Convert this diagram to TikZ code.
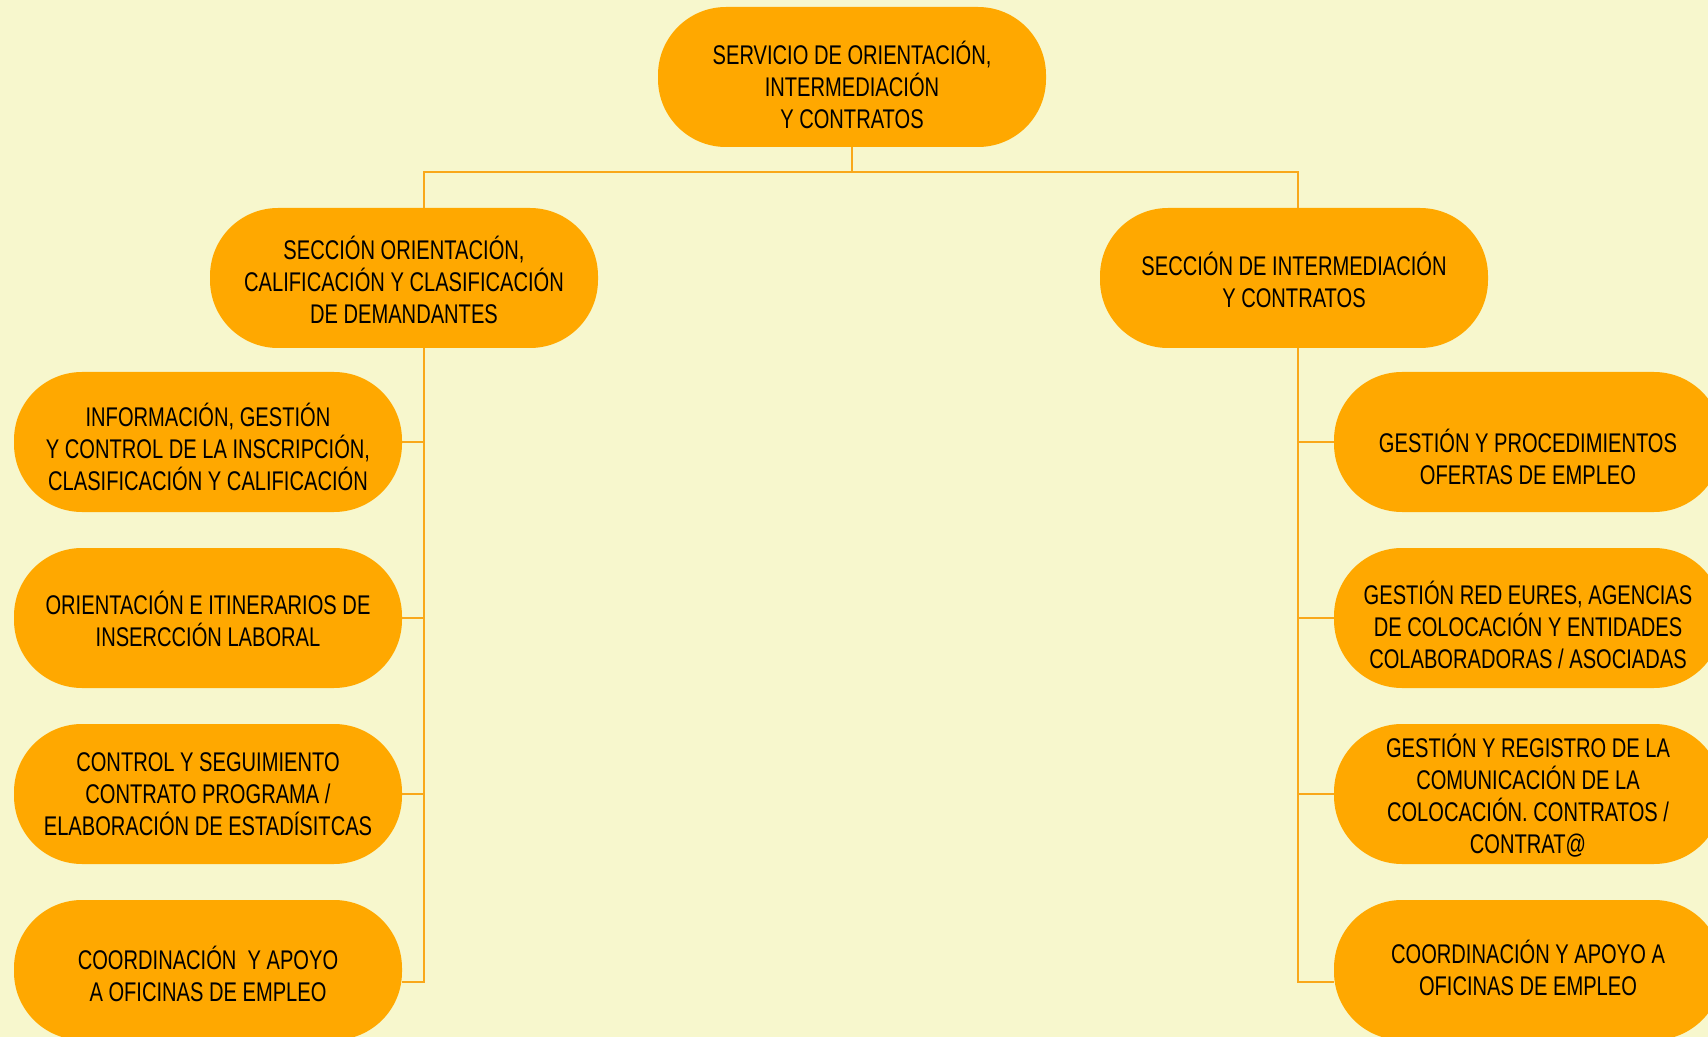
\documentclass[tikz,border=0pt]{standalone}
\usepackage{fontspec}
\setmainfont{Liberation Sans}[FakeStretch=0.745]
\usetikzlibrary{positioning}
\definecolor{fondo}{HTML}{F7F7CD}
\definecolor{naranja}{HTML}{FFA800}
\definecolor{linea}{HTML}{F9A81A}

\begin{document}
\begin{tikzpicture}[x=0.5pt,y=-0.5pt,on grid,node distance=88pt,
  caja/.style={rectangle,rounded corners=34pt,fill=naranja,minimum width=194pt,
    minimum height=70pt,inner sep=0pt},
  texto/.style={inner sep=0pt,align=center,font=\fontsize{13.5}{16}\selectfont},
  link/.style={draw=linea,line width=1.4pt}]

  \useasboundingbox (0,0) rectangle (1708,1037);
  \clip (0,0) rectangle (1708,1037);
  \fill[fondo] (0,0) rectangle (1708,1037);

  % jefatura y secciones
  \node[caja,label={[texto,yshift=-4.2pt]center:SERVICIO DE ORIENTACIÓN,\\INTERMEDIACIÓN\\Y CONTRATOS}] (serv) at (852,77) {};
  \node[caja,label={[texto,yshift=-1pt]center:SECCIÓN ORIENTACIÓN,\\CALIFICACIÓN Y CLASIFICACIÓN\\DE DEMANDANTES}] (lsec) at (404,278) {};
  \node[caja,label={[texto,yshift=-0.8pt]center:SECCIÓN DE INTERMEDIACIÓN\\Y CONTRATOS}] (rsec) at (1294,278) {};

  % negociados izquierda
  \node[caja,label={[texto,yshift=-2.7pt]center:INFORMACIÓN, GESTIÓN\\Y CONTROL DE LA INSCRIPCIÓN,\\CLASIFICACIÓN Y CALIFICACIÓN}] (l1) at (208,442) {};
  \node[caja,label={[texto,yshift=-0.5pt]center:ORIENTACIÓN E ITINERARIOS DE\\INSERCCIÓN LABORAL}] (l2) [below=of l1] {};
  \node[caja,label={[texto]center:CONTROL Y SEGUIMIENTO\\CONTRATO PROGRAMA /\\ELABORACIÓN DE ESTADÍSITCAS}] (l3) [below=of l2] {};
  \node[caja,label={[texto,yshift=-2pt]center:COORDINACIÓN\ \ Y APOYO\\A OFICINAS DE EMPLEO}] (l4) [below=of l3] {};

  % negociados derecha
  \node[caja,label={[texto,yshift=-7.6pt]center:GESTIÓN Y PROCEDIMIENTOS\\OFERTAS DE EMPLEO}] (r1) at (1528,442) {};
  \node[caja,label={[texto,yshift=-3.3pt]center:GESTIÓN RED EURES, AGENCIAS\\DE COLOCACIÓN Y ENTIDADES\\COLABORADORAS / ASOCIADAS}] (r2) [below=of r1] {};
  \node[caja,label={[texto,yshift=-1pt]center:GESTIÓN Y REGISTRO DE LA\\COMUNICACIÓN DE LA\\COLOCACIÓN. CONTRATOS /\\CONTRAT@}] (r3) [below=of r2] {};
  \node[caja,label={[texto,yshift=0.8pt]center:COORDINACIÓN Y APOYO A\\OFICINAS DE EMPLEO}] (r4) [below=of r3] {};

  \coordinate (lsp) at (424,172);
  \coordinate (rsp) at (1298,172);

  \draw[link] (serv.south) -- (serv.south |- lsp);
  \draw[link] (lsec.north -| lsp) -- (lsp) -- (rsp) -- (rsec.north -| rsp);

  \draw[link] (lsec.south -| lsp) |- ([yshift=-6pt]l4.east);
  \foreach \n in {l1,l2,l3}
    \draw[link] (\n.east) -- (\n.east -| lsp);

  \draw[link] (rsec.south -| rsp) |- ([yshift=-6pt]r4.west);
  \foreach \n in {r1,r2,r3}
    \draw[link] (\n.west) -- (\n.west -| rsp);
\end{tikzpicture}
\end{document}
